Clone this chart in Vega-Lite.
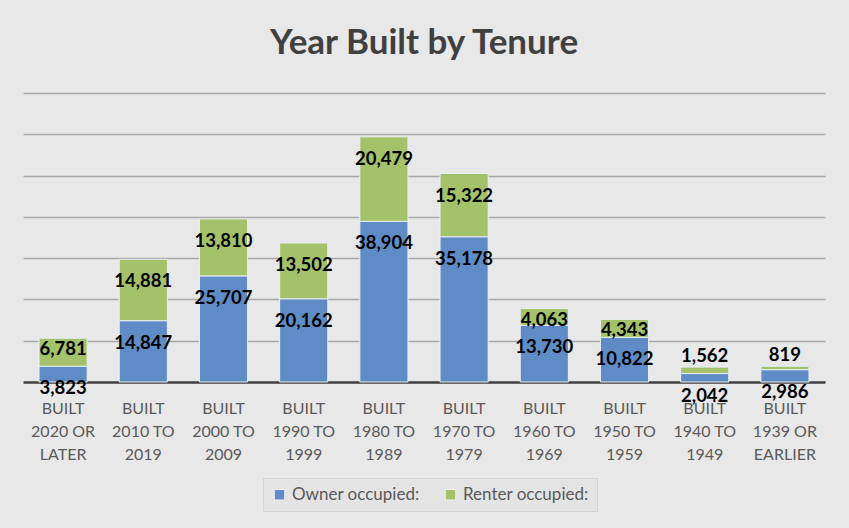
{
  "$schema": "https://vega.github.io/schema/vega-lite/v6.json",
  "width": 802,
  "height": 289,
  "padding": {"left": 23, "right": 24, "top": 26, "bottom": 18},
  "background": "#e8e8e8",
  "title": {
    "text": "Year Built by Tenure",
    "font": "Lato",
    "fontSize": 35,
    "fontWeight": "bold",
    "color": "#404040",
    "anchor": "middle",
    "offset": 32
  },
  "config": {
    "view": {"stroke": null},
    "font": "Lato"
  },
  "data": {
    "values": [
      {"cat": "BUILT 2020 OR LATER", "series": "Owner occupied:", "value": 3823},
      {"cat": "BUILT 2020 OR LATER", "series": "Renter occupied:", "value": 6781},
      {"cat": "BUILT 2010 TO 2019", "series": "Owner occupied:", "value": 14847},
      {"cat": "BUILT 2010 TO 2019", "series": "Renter occupied:", "value": 14881},
      {"cat": "BUILT 2000 TO 2009", "series": "Owner occupied:", "value": 25707},
      {"cat": "BUILT 2000 TO 2009", "series": "Renter occupied:", "value": 13810},
      {"cat": "BUILT 1990 TO 1999", "series": "Owner occupied:", "value": 20162},
      {"cat": "BUILT 1990 TO 1999", "series": "Renter occupied:", "value": 13502},
      {"cat": "BUILT 1980 TO 1989", "series": "Owner occupied:", "value": 38904},
      {"cat": "BUILT 1980 TO 1989", "series": "Renter occupied:", "value": 20479},
      {"cat": "BUILT 1970 TO 1979", "series": "Owner occupied:", "value": 35178},
      {"cat": "BUILT 1970 TO 1979", "series": "Renter occupied:", "value": 15322},
      {"cat": "BUILT 1960 TO 1969", "series": "Owner occupied:", "value": 13730},
      {"cat": "BUILT 1960 TO 1969", "series": "Renter occupied:", "value": 4063},
      {"cat": "BUILT 1950 TO 1959", "series": "Owner occupied:", "value": 10822},
      {"cat": "BUILT 1950 TO 1959", "series": "Renter occupied:", "value": 4343},
      {"cat": "BUILT 1940 TO 1949", "series": "Owner occupied:", "value": 2042},
      {"cat": "BUILT 1940 TO 1949", "series": "Renter occupied:", "value": 1562},
      {"cat": "BUILT 1939 OR EARLIER", "series": "Owner occupied:", "value": 2986},
      {"cat": "BUILT 1939 OR EARLIER", "series": "Renter occupied:", "value": 819}
    ]
  },
  "transform": [
    {"stack": "value", "groupby": ["cat"], "sort": [{"field": "series", "order": "ascending"}], "as": ["v0", "v1"]}
  ],
  "encoding": {
    "x": {
      "field": "cat",
      "type": "nominal",
      "sort": null,
      "scale": {"paddingInner": 0.4, "paddingOuter": 0.2},
      "axis": {
        "title": null,
        "labelAngle": 0,
        "labelExpr": "[slice(datum.label,0,5), slice(datum.label,6,13), slice(datum.label,14)]",
        "labelFont": "Lato",
        "labelFontSize": 16,
        "labelColor": "#595959",
        "labelLineHeight": 23,
        "labelPadding": 18,
        "ticks": false,
        "domain": true,
        "domainColor": "#404040",
        "domainWidth": 2.5,
        "grid": false
      }
    }
  },
  "layer": [
    {
      "mark": {"type": "bar", "stroke": "#e9eef4", "strokeWidth": 1},
      "encoding": {
        "y": {
          "field": "v1",
          "type": "quantitative",
          "scale": {"domain": [0, 70000], "nice": false},
          "axis": {
            "title": null,
            "labels": false,
            "ticks": false,
            "domain": false,
            "values": [10000, 20000, 30000, 40000, 50000, 60000, 70000],
            "gridColor": "#a8a8a8",
            "gridWidth": 1.3
          }
        },
        "y2": {"field": "v0"},
        "color": {
          "field": "series",
          "type": "nominal",
          "scale": {"domain": ["Owner occupied:", "Renter occupied:"], "range": ["#5f8cc6", "#a4c26a"]},
          "legend": {
            "title": null,
            "orient": "none",
            "legendX": 240,
            "legendY": 385,
            "direction": "horizontal",
            "symbolType": "square",
            "symbolSize": 110,
            "symbolStrokeColor": "#f0f0f0",
            "symbolStrokeWidth": 1,
            "labelFont": "Lato",
            "labelFontSize": 17,
            "labelColor": "#595959",
            "columnPadding": 22,
            "padding": 8,
            "fillColor": "#e4e4e4",
            "strokeColor": "#d4d4d4"
          }
        }
      }
    },
    {
      "transform": [{"filter": "datum.series == 'Owner occupied:' || datum.value >= 10000"}],
      "mark": {"type": "text", "dy": 22, "font": "Lato", "fontSize": 18.5, "fontWeight": "bold", "color": "#000000"},
      "encoding": {
        "y": {"field": "v1", "type": "quantitative"},
        "text": {"field": "value", "type": "quantitative", "format": ",d"}
      }
    },
    {
      "transform": [{"filter": "datum.series == 'Renter occupied:' && datum.value < 10000 && datum.value >= 2000"}],
      "mark": {"type": "text", "dy": 11, "font": "Lato", "fontSize": 18.5, "fontWeight": "bold", "color": "#000000"},
      "encoding": {
        "y": {"field": "v1", "type": "quantitative"},
        "text": {"field": "value", "type": "quantitative", "format": ",d"}
      }
    },
    {
      "transform": [{"filter": "datum.series == 'Renter occupied:' && datum.value < 2000"}],
      "mark": {"type": "text", "dy": -11, "font": "Lato", "fontSize": 18.5, "fontWeight": "bold", "color": "#000000"},
      "encoding": {
        "y": {"field": "v1", "type": "quantitative"},
        "text": {"field": "value", "type": "quantitative", "format": ",d"}
      }
    }
  ]
}
